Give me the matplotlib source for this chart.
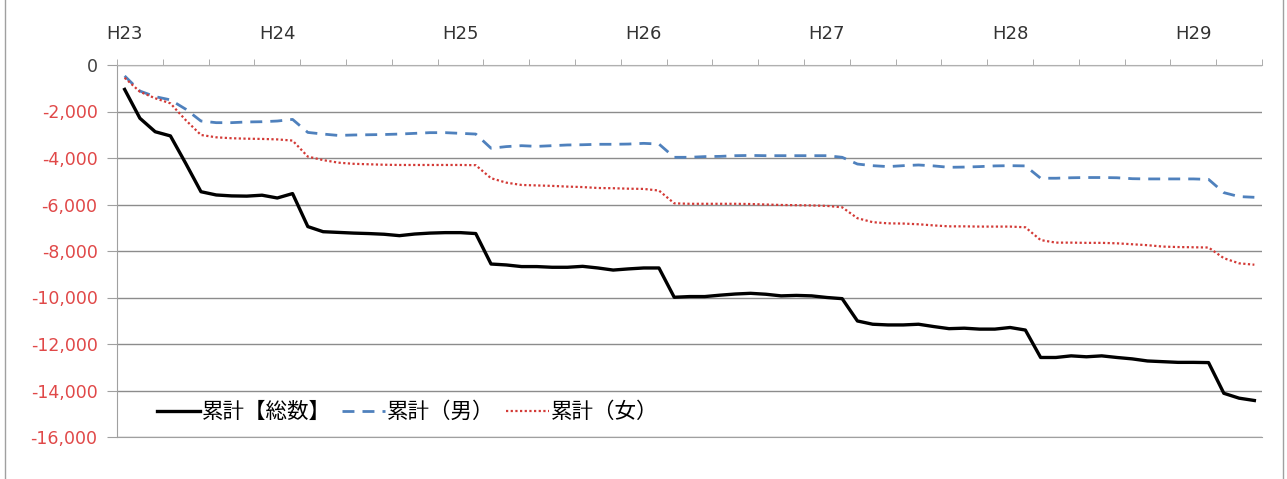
import pandas as pd
import matplotlib.pyplot as plt
from matplotlib.patches import Rectangle
from matplotlib.ticker import FuncFormatter


# monthly categories, H23.3 (2011-03) .. H29.5 (2017-05)
months = pd.period_range("2011-03", "2017-05", freq="M").strftime("%Y-%m").tolist()

year_labels = ["H23", "H24", "H25", "H26", "H27", "H28", "H29"]
label_months = ["2011-03", "2012-01", "2013-01", "2014-01", "2015-01", "2016-01", "2017-01"]

total = [-1050, -2290, -2870, -3050, -4230, -5450, -5590, -5630, -5640, -5600, -5720, -5530,
         -6950, -7170, -7200, -7230, -7250, -7280, -7340, -7270, -7230, -7210, -7210, -7250,
         -8560, -8600, -8670, -8670, -8700, -8700, -8660, -8730, -8820, -8770, -8730, -8730,
         -9990, -9960, -9960, -9900, -9850, -9820, -9860, -9930, -9910, -9930, -10000, -10050,
         -11010, -11150, -11180, -11180, -11150, -11250, -11340, -11320, -11360, -11360, -11290, -11400,
         -12580, -12580, -12510, -12550, -12510, -12580, -12640, -12730, -12760, -12790, -12790, -12800,
         -14120, -14330, -14430]

male = [-470, -1120, -1360, -1500, -1900, -2410, -2480, -2480, -2450, -2440, -2410, -2340,
        -2900, -2970, -3030, -3010, -3000, -2990, -2970, -2940, -2910, -2910, -2940, -2970,
        -3580, -3510, -3470, -3500, -3470, -3440, -3430, -3410, -3410, -3400, -3370, -3400,
        -3970, -3970, -3940, -3930, -3900, -3890, -3900, -3900, -3900, -3900, -3900, -3970,
        -4260, -4330, -4370, -4330, -4300, -4340, -4400, -4390, -4370, -4340, -4330, -4340,
        -4870, -4870, -4850, -4840, -4840, -4850, -4890, -4900, -4900, -4900, -4900, -4920,
        -5490, -5660, -5690]

female = [-550, -1150, -1430, -1650, -2370, -3010, -3110, -3150, -3170, -3180, -3200, -3250,
          -3940, -4090, -4200, -4250, -4270, -4290, -4300, -4300, -4300, -4300, -4300, -4310,
          -4870, -5060, -5160, -5180, -5200, -5230, -5250, -5290, -5300, -5320, -5330, -5400,
          -5950, -5970, -5970, -5970, -5970, -5980, -6000, -6020, -6030, -6040, -6060, -6120,
          -6590, -6760, -6810, -6820, -6850, -6900, -6940, -6940, -6950, -6950, -6950, -6980,
          -7530, -7640, -7640, -7650, -7650, -7670, -7710, -7750, -7810, -7830, -7840, -7850,
          -8310, -8530, -8590]

plt.rcParams['font.family'] = ['DejaVu Sans', 'Noto Sans CJK JP']

W, H = 1287, 479
fig = plt.figure(figsize=(W / 100, H / 100), dpi=100)
ax = fig.add_axes([117 / W, 1 - 437 / H, 1145 / W, 372 / H])

x = list(range(len(months)))
ax.plot(x, total, color='black', lw=2.4, label='累計【総数】')
ax.plot(x, male, color='#4F81BD', lw=2, ls=(0, (4.3, 2.9)), label='累計（男）')
ax.plot(x, female, color='#D33A36', lw=1.6, ls=(0, (1, 1.1)), label='累計（女）')

ax.set_xlim(-0.5, len(months) - 0.5)
ax.set_ylim(-16000, 0)

# y axis: red negatives like the Excel number format
yticks = list(range(-16000, 1, 2000))
ax.set_yticks(yticks)
ax.yaxis.set_major_formatter(FuncFormatter(lambda v, p: f"{v:,.0f}"))
for lbl, v in zip(ax.get_yticklabels(), yticks):
    lbl.set_color('#404040' if v == 0 else '#E04848')
ax.tick_params(axis='y', length=7, color='#a0a0a0', pad=7, labelsize=12.5)

# x axis on top: year labels + quarter tick marks
label_pos = [months.index(m) for m in label_months]
ax.set_xticks(label_pos, year_labels)
ax.set_xticks([b - 0.5 for b in range(0, len(months) + 1, 3)], minor=True)
ax.tick_params(axis='x', which='major', bottom=False, labelbottom=False, top=True,
               labeltop=True, length=0, pad=16, labelsize=13, labelcolor='#333333')
ax.tick_params(axis='x', which='minor', bottom=False, top=True, length=4,
               color='#a0a0a0', direction='out')

ax.grid(axis='y', color='#8c8c8c', lw=1)
ax.set_axisbelow(True)
ax.spines['right'].set_visible(False)
ax.spines['top'].set_color('#b0b0b0')
ax.spines['left'].set_color('#a0a0a0')
ax.spines['bottom'].set_color('#a0a0a0')

ax.legend(loc='center left', bbox_to_anchor=(0.035, 0.067), ncol=3, frameon=False,
          prop={'family': ['Noto Sans CJK JP', 'DejaVu Sans'], 'size': 15.5},
          handlelength=2.0, handletextpad=0.1, columnspacing=0.5,
          borderaxespad=0, borderpad=0)

# chart area border
fig.patches.append(Rectangle((5 / W, -0.1), (1283 - 5) / W, 1.2, transform=fig.transFigure,
                             fill=False, ec='#a0a0a0', lw=1))

fig.savefig('out.png', dpi=100)
